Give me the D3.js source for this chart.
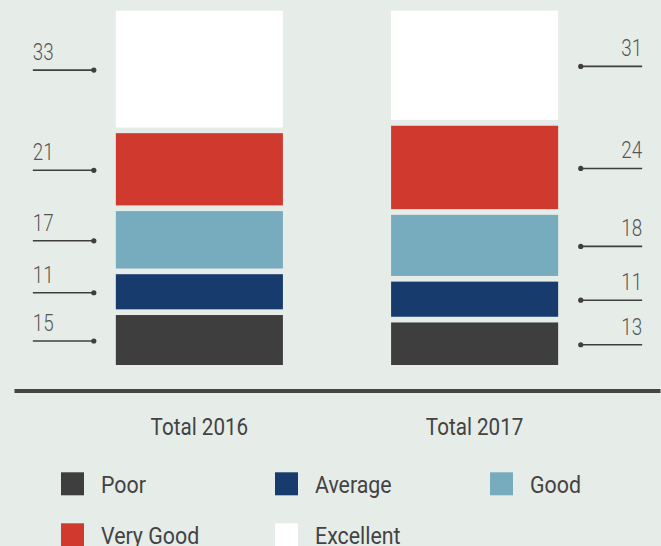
<!DOCTYPE html>
<html>
<head>
<meta charset="utf-8">
<script src="https://cdn.jsdelivr.net/npm/d3@7"></script>
<style>
  html, body { margin: 0; padding: 0; background: #e6ece8; }
  svg { display: block; }
  text { font-family: "Roboto", "Noto Sans", sans-serif; }
</style>
</head>
<body>
<svg id="chart" width="661" height="546"></svg>
<script>
// Rating shares per year, stacked bottom (Poor) to top (Excellent)
const years = ["Total 2016", "Total 2017"];
const ratings = ["Poor", "Average", "Good", "Very Good", "Excellent"];
const values2016 = [15, 11, 17, 21, 33];
const values2017 = [13, 11, 18, 24, 31];
const ratingColors = ["#3e3e3e", "#163b6c", "#77abbe", "#d0392e", "#ffffff"];

const seriesByYear = { "Total 2016": values2016, "Total 2017": values2017 };

const svg = d3.select("#chart");
const baseY = 365, topY = 5;
const gap = 5.7;
const textColor = "#434343";
const axisSquash = 0.86;    // narrow the type to a condensed look
const legendSquash = 0.89;
const numberSquash = 0.8;

const x = d3.scaleBand()
  .domain(years)
  .range([14, 660])
  .paddingInner(0.393)
  .paddingOuter(0.37);

const total = d3.max(years, yr => d3.sum(seriesByYear[yr]));
const y = d3.scaleLinear().domain([0, total]).range([baseY, topY]);

const color = d3.scaleOrdinal().domain(ratings).range(ratingColors);

// Build stack table
const table = years.map(yr => {
  const row = { year: yr };
  ratings.forEach((r, i) => row[r] = seriesByYear[yr][i]);
  return row;
});
const stacked = d3.stack().keys(ratings)(table);

// Segments
const layers = svg.append("g").selectAll("g")
  .data(stacked)
  .join("g")
  .attr("fill", d => color(d.key));

layers.selectAll("rect")
  .data(d => d.map(p => ({ key: d.key, year: p.data.year, y0: p[0], y1: p[1] })))
  .join("rect")
  .attr("x", d => x(d.year))
  .attr("width", x.bandwidth())
  .attr("y", d => y(d.y1) + gap)
  .attr("height", d => y(d.y0) - y(d.y1) - gap);

// Value callouts: left of the first bar, right of the second
const callouts = svg.append("g");
stacked.forEach(layer => {
  layer.forEach(p => {
    const yr = p.data.year;
    const v = p.data[layer.key];
    const cy = (y(p[1]) + gap + y(p[0])) / 2 + 1;
    const left = yr === years[0];
    const x0 = x(yr);
    const x1 = x0 + x.bandwidth();
    const dotX = left ? x0 - 22 : x1 + 22.6;
    const endX = left ? x0 - 83 : x1 + 84;
    callouts.append("line")
      .attr("x1", endX).attr("x2", dotX)
      .attr("y1", cy).attr("y2", cy)
      .attr("stroke", "#3f3f3f").attr("stroke-width", 1.6);
    callouts.append("circle")
      .attr("cx", dotX).attr("cy", cy).attr("r", 2.6)
      .attr("fill", "#3f3f3f");
    callouts.append("text")
      .attr("transform", `translate(${endX},${cy - 10}) scale(${numberSquash},1)`)
      .attr("text-anchor", left ? "start" : "end")
      .attr("font-size", 23.5)
      .attr("font-weight", 300)
      .attr("fill", "#555")
      .text(v);
  });
});

// Baseline axis with year labels
const axis = svg.append("g")
  .attr("transform", `translate(0,${390.5})`)
  .call(d3.axisBottom(x).tickSize(0).tickPadding(0));
axis.select(".domain")
  .attr("stroke", "#444")
  .attr("stroke-width", 4.2);
axis.selectAll(".tick text")
  .attr("dy", null)
  .attr("y", null)
  .attr("transform", `translate(0,44.5) scale(${axisSquash},1)`)
  .attr("font-size", 24)
  .attr("font-family", null)
  .attr("fill", textColor);

// Legend: three columns, two rows
const legendCols = [61, 275, 490];
const legendRows = [472.3, 523.3];
const legend = svg.append("g");
ratings.forEach((r, i) => {
  const lx = legendCols[i % 3];
  const ly = legendRows[Math.floor(i / 3)];
  legend.append("rect")
    .attr("x", lx).attr("y", ly)
    .attr("width", 23).attr("height", 23)
    .attr("fill", color(r));
  legend.append("text")
    .attr("transform", `translate(${lx + 40},${ly + 20.5}) scale(${legendSquash},1)`)
    .attr("font-size", 24)
    .attr("fill", textColor)
    .text(r);
});
</script>
</body>
</html>
